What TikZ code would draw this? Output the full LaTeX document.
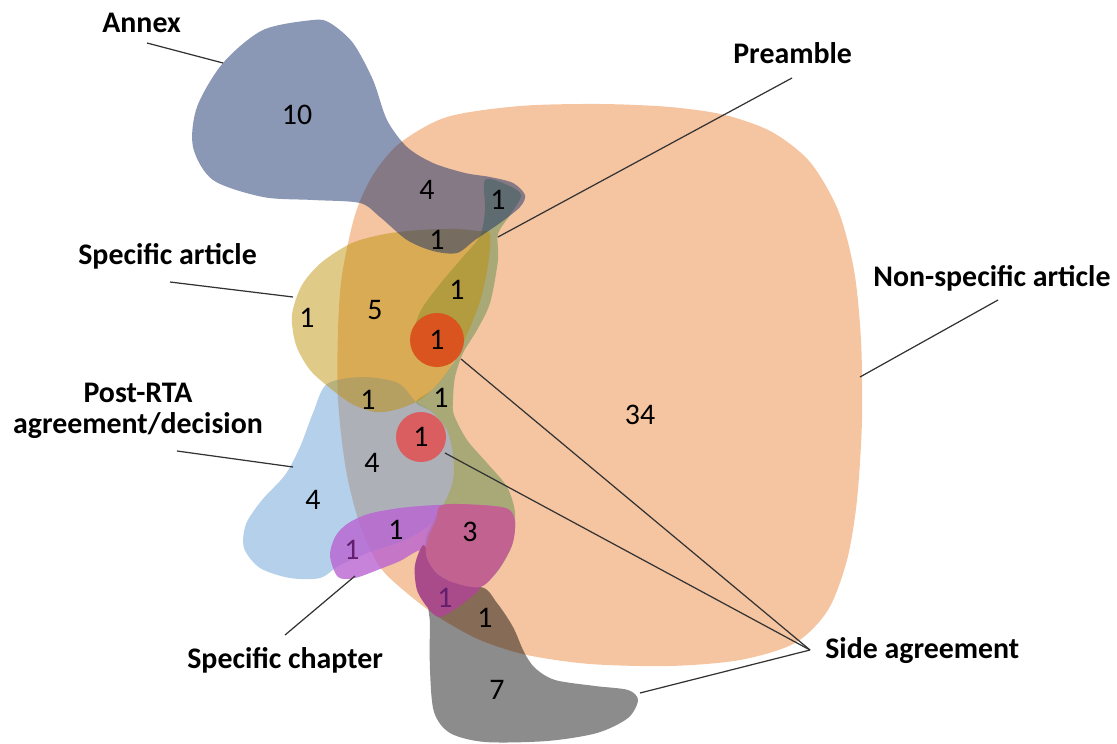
\documentclass[tikz,border=0pt]{standalone}
\usepackage{fontspec}
\setmainfont{Carlito}
\usetikzlibrary{calc}
\definecolor{nonspec}{RGB}{245,196,160}
\definecolor{annexblue}{RGB}{21,47,107}
\definecolor{specgold}{RGB}{189,143,2}
\definecolor{postblue}{RGB}{96,155,211}
\definecolor{preolive}{RGB}{107,145,87}
\definecolor{chapviolet}{RGB}{185,99,209}
\definecolor{threepink}{RGB}{194,98,145}
\definecolor{chapmag}{RGB}{169,74,139}
\definecolor{sidered}{RGB}{217,84,30}
\definecolor{sidepink}{RGB}{218,94,96}
\definecolor{numpurple}{RGB}{100,30,110}
\tikzset{
  lbl/.style={font=\fontsize{17}{17.5}\selectfont\bfseries, inner sep=0pt},
  num/.style={font=\fontsize{17}{20}\selectfont, inner sep=0pt},
  leader/.style={draw=black!80, line width=0.7pt}
}

\begin{document}
\begin{tikzpicture}[x=0.02cm,y=-0.02cm]
\useasboundingbox (0,0) rectangle (1117,744);

% non-specific article
\fill[nonspec] plot[smooth cycle] coordinates {
  (400,143) (447,117) (520,106) (600,104) (670,107) (725,115) (772,132)
  (810,162) (838,210) (854,270) (861,340) (862,420) (857,500) (847,560)
  (828,610) (795,643) (740,660) (670,666) (590,664) (527,655) (480,640)
  (440,618) (408,594) (380,567) (360,525) (346,470) (338,400) (338,330)
  (342,275) (355,215) (373,175)};

% post-RTA agreement/decision
\fill[postblue, fill opacity=0.47] plot[smooth cycle] coordinates {
  (327,384) (363,377) (398,383) (416,402) (432,412) (447,430) (453,455)
  (453,480) (446,500) (433,522) (405,540) (370,552) (340,565) (320,578)
  (290,578) (260,568) (244,548) (246,524) (262,500) (285,475) (300,447)
  (313,413)};

% preamble
\fill[preolive, fill opacity=0.55] plot[smooth cycle] coordinates {
  (485,180) (505,184) (521,195) (510,215) (498,234) (498,260) (490,303)
  (477,330) (463,353) (455,377) (453,400) (454,415) (467,440) (487,463)
  (507,487) (515,513) (512,545) (497,572) (478,586) (450,578) (432,562)
  (425,542) (433,522) (446,500) (453,480) (453,455) (447,430) (432,412)
  (416,402) (432,390) (447,372) (460,350) (437,358) (414,340) (420,312)
  (440,284) (462,258) (480,236) (485,210)};

% specific article
\fill[specgold, fill opacity=0.47] plot[smooth cycle] coordinates {
  (490,234) (488,265) (481,298) (471,325) (460,350) (447,372) (432,390)
  (416,402) (395,410) (375,412) (352,404) (330,388) (310,370) (296,345)
  (292,315) (302,285) (322,262) (352,243) (385,234) (420,230) (455,229)
  (478,231)};

% annex
\fill[annexblue, fill opacity=0.5] plot[smooth cycle] coordinates {
  (313,20) (263,30) (223,63) (197,107) (193,147) (213,180) (263,197)
  (313,200) (360,203) (380,217) (407,240) (433,251) (457,253) (475,240)
  (500,223) (520,207) (525,195) (513,183) (490,177) (465,173) (433,163)
  (407,147) (387,120) (373,80) (353,43) (330,23)};

% side agreement
\fill[black, fill opacity=0.45] plot[smooth cycle] coordinates {
  (432,598) (480,587) (497,603) (513,627) (524,652) (535,668) (555,680)
  (595,686) (628,690) (638,700) (628,718) (597,733) (547,741) (485,742)
  (450,733) (434,712) (430,670) (430,625)};

% specific chapter
\fill[chapviolet, fill opacity=0.8] plot[smooth cycle] coordinates {
  (330,556) (335,537) (347,524) (368,514) (400,508) (437,505) (480,505)
  (508,509) (515,522) (512,545) (498,570) (480,587) (450,582) (432,568)
  (422,550) (400,561) (380,569) (355,578) (338,577)};
\fill[chapmag] plot[smooth cycle] coordinates {
  (424,545) (415,565) (417,590) (428,608) (440,617) (462,604) (480,587)
  (452,582) (434,570)};
\fill[threepink] plot[smooth cycle] coordinates {
  (442,505) (436,520) (428,538) (426,555) (434,570) (452,582) (480,587)
  (498,570) (512,545) (515,522) (508,509) (480,505)};

\fill[sidered] (437,340) circle (27);
\fill[sidepink] (421,437) circle (25);

% counts
\foreach \x/\y/\t [count=\i] in {297/115/10, 427/190/4, 498/200/1, 437/240/1,
    307/318/1, 375/310/5, 457/290/1, 437/340/1, 640/415/34, 368/400/1,
    441/398/1, 421/437/1, 372/463/4, 313/500/4, 396/530/1, 470/532/3,
    485/618/1, 497/690/7}
  \node[num] (n\i) at (\x,\y) {\t};
\node[num, numpurple] (nchap) at (352,550) {1};
\node[num, numpurple] (nmag) at (445,598) {1};

% labels
\node[lbl, anchor=base west] (annex) at (102,32) {Annex};
\node[lbl, anchor=base west] (preamble) at (733,63) {Preamble};
\node[lbl, anchor=base west] (specart) at (78,264) {Specific article};
\node[lbl, anchor=base west] (nonspec) at (873,286) {Non-specific article};
\node[lbl, align=center] (postrta) at (138,411) {Post-RTA\\agreement/decision};
\node[lbl, anchor=base west] (specchap) at (187,668) {Specific chapter};
\node[lbl, anchor=base west] (sideagr) at (825,658) {Side agreement};

\coordinate (annexfoot) at (147,43);
\coordinate (annexedge) at (223,63);
\coordinate (prefoot)   at (792,78);
\coordinate (preedge)   at (498,237);
\coordinate (specfoot)  at (170,282);
\coordinate (specedge)  at (293,297);
\coordinate (nonfoot)   at (998,300);
\coordinate (nonedge)   at (860,377);
\coordinate (postfoot)  at (177,451);
\coordinate (postedge)  at (293,467);
\coordinate (chapfoot)  at (285,635);
\coordinate (chapedge)  at (355,576);
\coordinate (sidefoot)  at (810,650);
\coordinate (sideone)   at (461,359);
\coordinate (sidetwo)   at (445,453);
\coordinate (sidegray)  at (640,693);

\draw[leader] (annexfoot) -- (annexedge);
\draw[leader] (prefoot) -- (preedge);
\draw[leader] (specfoot) -- (specedge);
\draw[leader] (nonfoot) -- (nonedge);
\draw[leader] (postfoot) -- (postedge);
\draw[leader] (chapfoot) -- (chapedge);
\foreach \e in {sideone,sidetwo,sidegray}
  \draw[leader] (sidefoot) -- (\e);
\end{tikzpicture}
\end{document}
